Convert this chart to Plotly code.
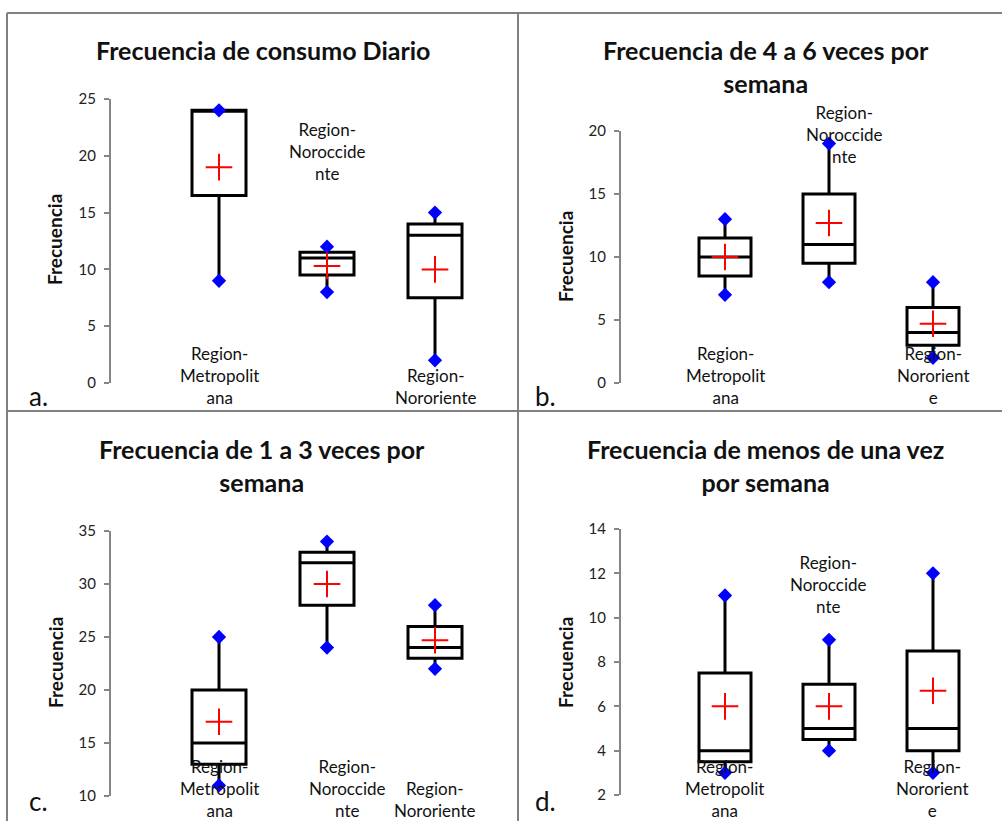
import plotly.graph_objects as go

FONT = "Lato"
W, H = 1002, 821

# ---------------- data ----------------
cat_pos = [1, 2, 3]
categories = ["Region-Metropolitana", "Region-Noroccidente", "Region-Nororiente"]

titles = [
    "Frecuencia de consumo Diario",
    "Frecuencia de 4 a 6 veces por<br>semana",
    "Frecuencia de 1 a 3 veces por<br>semana",
    "Frecuencia de menos de una vez<br>por semana",
]
panel_letters = ["a.", "b.", "c.", "d."]

# panel a: consumo diario
a_min = [9, 8, 2]
a_q1 = [16.5, 9.5, 7.5]
a_med = [24, 11, 13]
a_q3 = [24, 11.5, 14]
a_max = [24, 12, 15]
a_mean = [19, 10.3, 10]

# panel b: 4 a 6 veces
b_min = [7, 8, 2]
b_q1 = [8.5, 9.5, 3]
b_med = [10, 11, 4]
b_q3 = [11.5, 15, 6]
b_max = [13, 19, 8]
b_mean = [10, 12.7, 4.7]

# panel c: 1 a 3 veces
c_min = [11, 24, 22]
c_q1 = [13, 28, 23]
c_med = [15, 32, 24]
c_q3 = [20, 33, 26]
c_max = [25, 34, 28]
c_mean = [17, 30, 24.7]

# panel d: menos de una vez
d_min = [3, 4, 3]
d_q1 = [3.5, 4.5, 4]
d_med = [4, 5, 5]
d_q3 = [7.5, 7, 8.5]
d_max = [11, 9, 12]
d_mean = [6, 6, 6.7]

# wrapped category labels as they appear in each panel
a_labels = ["Region-<br>Metropolit<br>ana", "Region-<br>Noroccide<br>nte", "Region-<br>Nororiente"]
b_labels = ["Region-<br>Metropolit<br>ana", "Region-<br>Noroccide<br>nte", "Region-<br>Nororient<br>e"]
c_labels = ["Region-<br>Metropolit<br>ana", "Region-<br>Noroccide<br>nte", "Region-<br>Nororiente"]
d_labels = ["Region-<br>Metropolit<br>ana", "Region-<br>Noroccide<br>nte", "Region-<br>Nororient<br>e"]

# y axis ranges / ticks
y_ranges = [[0, 25], [0, 20], [10, 35], [2, 14]]
y_dticks = [5, 5, 5, 2]

# ---------------- layout geometry (pixels) ----------------
def px(x):
    return x / W

def py(y):
    return 1 - y / H

# axis x pixel, category spacing, y pixel of range bottom, y pixel of range top
geom = [
    dict(ax=111, sp=108, yb=383, yt=99, xr=3.75),
    dict(ax=621, sp=104, yb=383, yt=131, xr=3.5),
    dict(ax=111, sp=108, yb=796, yt=531, xr=3.75),
    dict(ax=621, sp=104, yb=795, yt=529, xr=3.5),
]

# category label centres (pixels)
label_px = [
    [(219, 375), (327, 152), (435, 387)],
    [(725, 375), (844, 134), (933, 375)],
    [(219, 788), (347, 788), (434, 799)],
    [(724, 788), (828, 584), (932, 788)],
]
title_px = [(263, 50), (766, 66), (262, 465), (765, 465)]
ytitle_px = [(55, 240), (565, 257), (55, 663), (565, 663)]
letter_px = [(38, 396), (545, 396), (38, 801), (545, 801)]

panels = [
    (a_min, a_q1, a_med, a_q3, a_max, a_mean, a_labels),
    (b_min, b_q1, b_med, b_q3, b_max, b_mean, b_labels),
    (c_min, c_q1, c_med, c_q3, c_max, c_mean, c_labels),
    (d_min, d_q1, d_med, d_q3, d_max, d_mean, d_labels),
]

AXIS_GRAY = "#868686"
fig = go.Figure()
annotations = []
layout_axes = {}

for i, (mn, q1, med, q3, mx, mean, labels) in enumerate(panels):
    n = i + 1
    xa = "x" if n == 1 else f"x{n}"
    ya = "y" if n == 1 else f"y{n}"
    g = geom[i]

    fig.add_trace(go.Box(
        x=cat_pos, q1=q1, median=med, q3=q3, lowerfence=mn, upperfence=mx,
        boxpoints=False, width=0.5, whiskerwidth=0,
        line=dict(color="black", width=3), fillcolor="rgba(255,255,255,0)",
        xaxis=xa, yaxis=ya, hoverinfo="skip", name=titles[i],
    ))
    fig.add_trace(go.Scatter(
        x=cat_pos + cat_pos, y=mn + mx, mode="markers",
        marker=dict(symbol="diamond", size=11, color="#0000FF"),
        xaxis=xa, yaxis=ya, hoverinfo="skip",
    ))
    fig.add_trace(go.Scatter(
        x=cat_pos, y=mean, mode="markers",
        marker=dict(symbol="cross-thin", size=19, line=dict(color="#FF0000", width=2)),
        xaxis=xa, yaxis=ya, hoverinfo="skip",
    ))

    xdom = [px(g["ax"]), px(g["ax"] + g["xr"] * g["sp"])]
    ydom = [py(g["yb"]), py(g["yt"])]
    key_x = "xaxis" if n == 1 else f"xaxis{n}"
    key_y = "yaxis" if n == 1 else f"yaxis{n}"
    layout_axes[key_x] = dict(domain=xdom, range=[0, g["xr"]], visible=False,
                              anchor=ya, fixedrange=True)
    layout_axes[key_y] = dict(
        domain=ydom, range=y_ranges[i], dtick=y_dticks[i], tick0=0,
        anchor=xa, showline=True, linecolor=AXIS_GRAY, linewidth=2,
        ticks="outside", ticklen=5, tickwidth=2, tickcolor=AXIS_GRAY,
        showgrid=False, zeroline=False, ticklabelstandoff=5, automargin=False,
        tickfont=dict(family=FONT, size=15, color="#222222"), fixedrange=True,
    )
    # overlay axis for the inner half of the crossing tick marks
    ov = n + 4
    layout_axes[f"yaxis{ov}"] = dict(
        overlaying=ya, anchor=xa, side="left", range=y_ranges[i], dtick=y_dticks[i],
        tick0=0, ticks="inside", ticklen=6, tickwidth=2, tickcolor=AXIS_GRAY,
        showticklabels=False, showline=False, showgrid=False, zeroline=False,
        fixedrange=True, automargin=False,
    )

    for (lx, ly), txt in zip(label_px[i], labels):
        annotations.append(dict(
            x=px(lx), y=py(ly), xref="paper", yref="paper", text=txt, showarrow=False,
            font=dict(family=FONT, size=17, color="#111111"),
            xanchor="center", yanchor="middle", align="center",
        ))

    tx, ty = title_px[i]
    annotations.append(dict(
        x=px(tx), y=py(ty), xref="paper", yref="paper", text=f"<b>{titles[i]}</b>",
        showarrow=False, font=dict(family=FONT, size=25, color="#111111"),
        xanchor="center", yanchor="middle", align="center",
    ))
    ax_, ay_ = ytitle_px[i]
    annotations.append(dict(
        x=px(ax_), y=py(ay_), xref="paper", yref="paper", text="<b>Frecuencia</b>",
        showarrow=False, textangle=-90, font=dict(family=FONT, size=19, color="#111111"),
        xanchor="center", yanchor="middle",
    ))
    lx_, ly_ = letter_px[i]
    annotations.append(dict(
        x=px(lx_), y=py(ly_), xref="paper", yref="paper", text=panel_letters[i],
        showarrow=False, font=dict(family=FONT, size=26, color="#111111"),
        xanchor="center", yanchor="middle",
    ))

border = dict(color="#808080", width=2)
shapes = [
    dict(type="line", xref="paper", yref="paper", x0=px(7), x1=px(7), y0=py(13), y1=0, line=border),
    dict(type="line", xref="paper", yref="paper", x0=px(518), x1=px(518), y0=py(13), y1=0, line=border),
    dict(type="line", xref="paper", yref="paper", x0=px(7), x1=1, y0=py(13), y1=py(13), line=border),
    dict(type="line", xref="paper", yref="paper", x0=px(7), x1=1, y0=py(411), y1=py(411), line=border),
]

fig.update_layout(
    width=W, height=H, margin=dict(l=0, r=0, t=0, b=0, autoexpand=False),
    paper_bgcolor="white", plot_bgcolor="rgba(0,0,0,0)",
    showlegend=False, annotations=annotations, shapes=shapes,
    font=dict(family=FONT), **layout_axes,
)

fig.write_html(
    "out.html",
    config={"displayModeBar": False},
    post_script="document.body.style.margin='0';document.body.style.overflow='hidden';",
)
